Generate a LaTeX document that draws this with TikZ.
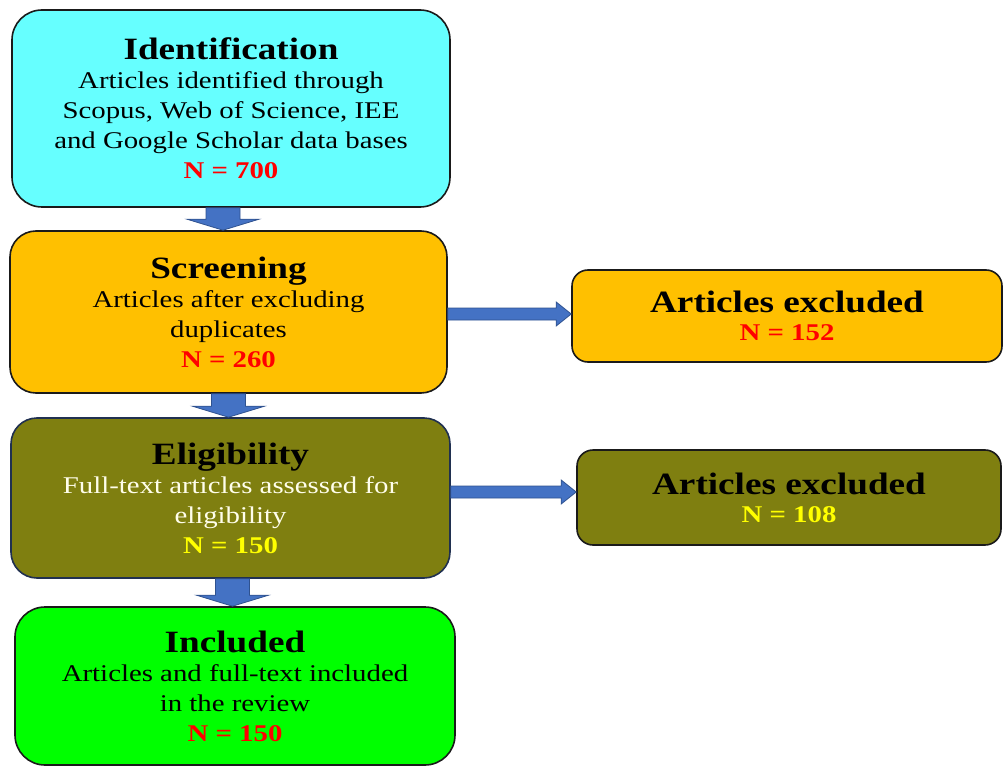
\documentclass[tikz,border=0pt]{standalone}
\usepackage{fontspec}
\setmainfont{Liberation Serif}[FakeStretch=1.2]
\usetikzlibrary{calc}
\definecolor{cyanbox}{HTML}{66FFFF}
\definecolor{orangebox}{HTML}{FFC000}
\definecolor{olivebox}{HTML}{7F7F10}
\definecolor{greenbox}{HTML}{00FF00}
\definecolor{nred}{HTML}{FF0000}
\definecolor{nyellow}{HTML}{FFFF00}
\definecolor{arrowfill}{HTML}{4472C4}
\definecolor{arrowline}{HTML}{2F528F}
\definecolor{boxline}{HTML}{1A1A1A}
\definecolor{navyline}{HTML}{203050}
\newcommand{\ttl}{\fontsize{31}{33}\selectfont\bfseries}
\newcommand{\nnum}{\fontsize{24}{30}\selectfont\bfseries}
\begin{document}
\begin{tikzpicture}[x=1pt,y=-1pt,
  box/.style={draw=boxline, line width=1.6pt, align=center, inner sep=0pt,
    font=\fontsize{24}{30}\selectfont},
  barrow/.style={fill=arrowfill, draw=arrowline, line width=0.8pt, line join=miter}]
\useasboundingbox (0,0) rectangle (1003,767);

\node[box, fill=cyanbox, rounded corners=30pt, minimum width=438pt, minimum height=197pt] (id) at (231,108.5)
  {{\ttl Identification}\\[-1pt] Articles identified through\\ Scopus, Web of Science, IEE\\ and Google Scholar data bases\\ {\nnum\color{nred} N = 700}};

\node[box, fill=orangebox, rounded corners=26pt, minimum width=437pt, minimum height=162pt] (scr) at (228.5,312)
  {{\ttl Screening}\\[-1pt] Articles after excluding\\ duplicates\\ {\nnum\color{nred} N = 260}};

\node[box, fill=orangebox, rounded corners=16pt, minimum width=430pt, minimum height=92pt] (ex1) at (787,316)
  {{\ttl Articles excluded}\\[-2pt] {\nnum\color{nred} N = 152}};

\node[box, draw=navyline, fill=olivebox, rounded corners=26pt, minimum width=439pt, minimum height=160pt] (eli) at (230.5,498)
  {{\ttl\color{black} Eligibility}\\[-1pt] \color{white!92!yellow}Full-text articles assessed for\\ \color{white!92!yellow}eligibility\\ {\nnum\color{nyellow} N = 150}};

\node[box, fill=olivebox, rounded corners=16pt, minimum width=424pt, minimum height=95pt] (ex2) at (789,497.5)
  {{\ttl Articles excluded}\\[-2pt] {\nnum\color{nyellow} N = 108}};

\node[box, fill=greenbox, rounded corners=30pt, minimum width=440pt, minimum height=158pt] (inc) at (235,686)
  {{\ttl Included}\\[-1pt] Articles and full-text included\\ in the review\\ {\nnum\color{nred} N = 150}};

% vertical block arrows
\foreach \a/\b/\dx in {id/scr/-8, scr/eli/0, eli/inc/2}{
  \draw[barrow] let \p1=(\a.south), \p2=(\b.north) in
    (\x1+\dx pt-17pt,\y1) -- (\x1+\dx pt-17pt,\y2+11pt) -- (\x1+\dx pt-36pt,\y2+11pt)
    -- (\x1+\dx pt,\y2) -- (\x1+\dx pt+36pt,\y2+11pt) -- (\x1+\dx pt+17pt,\y2+11pt)
    -- (\x1+\dx pt+17pt,\y1) -- cycle;
}
% horizontal block arrows
\foreach \a/\b/\dy in {scr/ex1/-2, eli/ex2/6}{
  \draw[barrow] let \p1=(\a.east), \p2=(\b.west) in
    (\x1,\y1+\dy pt+6pt) -- (\x2-15pt,\y1+\dy pt+6pt) -- (\x2-15pt,\y1+\dy pt+12pt)
    -- (\x2,\y1+\dy pt) -- (\x2-15pt,\y1+\dy pt-12pt) -- (\x2-15pt,\y1+\dy pt-6pt)
    -- (\x1,\y1+\dy pt-6pt) -- cycle;
}
\end{tikzpicture}
\end{document}
